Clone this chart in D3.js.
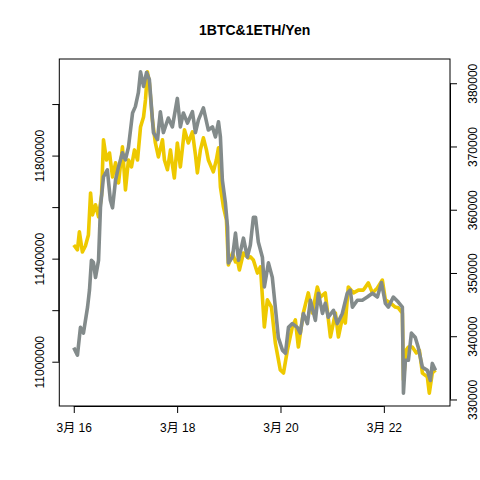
<!DOCTYPE html>
<html><head><meta charset="utf-8">
<script src="https://cdn.jsdelivr.net/npm/d3@7"></script>
<style>body{margin:0;background:#fff}svg{display:block}text{font-family:"Liberation Sans",Arial,"Noto Sans CJK JP",sans-serif}</style>
</head><body><div id="chart"></div>
<script>
// hours since 3/16 00:00
const btcHours = [0,1.7,2.6,4.0,5.4,6.8,7.8,8.7,10.1,11.5,12.9,13.8,15.2,16.6,18.0,19.4,20.8,22.6,24.0,25.4,26.8,28.2,29.6,31.0,32.4,33.3,34.2,35.1,36.5,37.9,39.3,41.2,42.1,43.5,44.9,45.8,46.7,48.1,49.5,51.4,53.2,55.1,56.5,57.4,58.8,60.2,61.6,62.5,64.8,66.2,67.2,68.1,69.5,70.9,71.8,73.7,75.1,76.0,76.9,78.8,81.1,82.0,83.4,85.3,86.7,88.5,89.9,91.8,93.6,95.9,97.4,99.2,101.5,102.9,104.3,106.6,108.9,110.8,113.1,114.5,116.8,119.2,121.5,122.9,125.2,126.1,127.5,129.9,132.2,134.5,136.8,138.7,141.0,143.3,144.7,147.0,149.3,150.7,152.6,153.1,154.4,155.4,157.2,159.1,160.5,161.9,164.2,165.1,166.5,168];
const btcValues = [11453000,11434000,11504000,11426000,11449000,11492000,11655000,11570000,11609000,11562000,11647000,11861000,11783000,11810000,11717000,11772000,11694000,11834000,11667000,11783000,11756000,11822000,11783000,11911000,11950000,12016000,12125000,12082000,11939000,11849000,11795000,11861000,11783000,11745000,11822000,11764000,11713000,11849000,11756000,11900000,11849000,11892000,11803000,11733000,11822000,11869000,11822000,11783000,11737000,11783000,11830000,11678000,11601000,11550000,11376000,11422000,11387000,11395000,11356000,11422000,11403000,11407000,11395000,11344000,11368000,11135000,11240000,11212000,11073000,10968000,10956000,11045000,11135000,11162000,11057000,11189000,11267000,11189000,11290000,11251000,11267000,11096000,11189000,11096000,11189000,11150000,11290000,11267000,11278000,11278000,11306000,11267000,11286000,11317000,11240000,11228000,11212000,11209000,11189000,10929000,11045000,11057000,11057000,11034000,11045000,10956000,10941000,10878000,10956000,10968000];
const ethHours = [0,1.7,3.1,4.5,6.4,7.3,8.2,9.1,10.1,11.5,12.4,13.8,15.6,17.0,18.0,19.4,20.8,22.6,24.0,25.4,27.3,28.6,30.0,31.0,32.4,33.8,35.1,37.0,38.9,40.2,41.6,43.9,45.8,48.1,49.5,50.9,52.8,55.1,56.5,57.9,60.2,62.5,64.4,65.8,67.2,68.1,69.0,70.4,71.4,71.8,73.7,75.1,76.5,78.8,80.6,82.0,83.4,84.4,85.7,87.6,88.5,90.4,92.2,93.6,95.0,96.9,98.3,99.7,101.5,103.8,105.2,106.6,108.5,109.9,112.2,113.6,115.5,116.8,118.2,120.6,122.4,124.7,127.0,128.4,129.4,131.7,134.0,136.3,138.7,141.0,142.9,144.7,146.1,148.4,150.7,152.6,153.1,154.0,155.4,156.8,158.6,160.0,161.9,164.2,165.6,166.5,168];
const ethValues = [338200,337000,341400,340500,344600,347300,352000,351700,349300,352000,360400,365200,366300,361500,360300,364700,366800,369000,367900,369900,375300,376300,378500,381800,379500,381700,380600,372200,371100,375500,372200,374500,373100,377600,373100,375300,373700,375500,372200,374200,376100,372600,373100,371500,373900,371500,364700,361100,357300,351600,352500,356300,352000,355500,352500,354400,358800,358800,354900,352500,347800,351600,349300,344600,339800,337800,337300,341400,342000,341400,340500,343600,342000,345700,342500,346800,343600,345200,343000,344100,342000,343600,346800,347300,344600,345700,345700,346200,346800,346200,348500,345200,344600,346200,345400,344600,331000,336200,336200,340500,339800,338200,335100,334600,333000,335700,334600];
const xTickHours = [0,48,96,144];
const xTickLabels = ["3月 16","3月 18","3月 20","3月 22"];
const leftTicks = [11000000,11200000,11400000,11600000,11800000,12000000];
const leftLabels = [11000000,11400000,11800000];
const rightTicks = [330000,340000,350000,360000,370000,380000];
const title = "1BTC&1ETH/Yen";

const W=480,H=480, L=59.3, R=450, T=59, B=406;
const svg=d3.select("#chart").append("svg").attr("width",W).attr("height",H);
function pad(ext){const d=(ext[1]-ext[0])*0.04;return [ext[0]-d,ext[1]+d];}
const x=d3.scaleLinear().domain(pad([0,168])).range([L,R]);
const yL=d3.scaleLinear().domain(pad(d3.extent(btcValues))).range([B,T]);
const yR=d3.scaleLinear().domain(pad(d3.extent(ethValues))).range([B,T]);

const btc=btcHours.map((h,i)=>[h,btcValues[i]]);
const eth=ethHours.map((h,i)=>[h,ethValues[i]]);
svg.append("path").datum(btc).attr("fill","none").attr("stroke","#EEC900").attr("stroke-width",3.6).attr("stroke-linejoin","round")
  .attr("d",d3.line().x(d=>x(d[0])).y(d=>yL(d[1])));
svg.append("path").datum(eth).attr("fill","none").attr("stroke","#838B8B").attr("stroke-width",3.6).attr("stroke-linejoin","round")
  .attr("d",d3.line().x(d=>x(d[0])).y(d=>yR(d[1])));

svg.append("rect").attr("x",L).attr("y",T).attr("width",R-L).attr("height",B-T).attr("fill","none").attr("stroke","#000").attr("stroke-width",1);

// bottom axis
const xa=svg.append("g").attr("transform",`translate(0,${B})`)
  .call(d3.axisBottom(x).tickValues(xTickHours).tickSize(7).tickFormat((d,i)=>xTickLabels[i]));
xa.select(".domain").attr("d",`M${x(0)},0.5H${x(144)}`);
xa.selectAll("text").attr("font-size",12).attr("dy",0).attr("y",26).attr("fill","#000");

// left axis
const la=svg.append("g").attr("transform",`translate(${L},0)`)
  .call(d3.axisLeft(yL).tickValues(leftTicks).tickSize(7).tickFormat(d=>leftLabels.includes(d)?String(d):""));
la.select(".domain").attr("d",`M-0.5,${yL(11000000)}V${yL(12000000)}`);
la.selectAll("text").attr("font-size",12).attr("fill","#000")
  .attr("transform","translate(-20,0) rotate(-90)")
  .attr("x",0).attr("y",0).attr("dy","0.35em").attr("text-anchor","middle");

// right axis
const ra=svg.append("g").attr("transform",`translate(${R},0)`)
  .call(d3.axisRight(yR).tickValues(rightTicks).tickSize(7).tickFormat(d=>String(d)));
ra.select(".domain").attr("d",`M0.5,${yR(330000)}V${yR(380000)}`);
ra.selectAll("text").attr("font-size",12).attr("fill","#000")
  .attr("transform","translate(23,0) rotate(-90)")
  .attr("x",0).attr("y",0).attr("dy","0.35em").attr("text-anchor","middle");

svg.append("text").attr("x",(L+R)/2).attr("y",35).attr("text-anchor","middle").attr("font-size",14).attr("font-weight","bold").text(title);
</script></body></html>
